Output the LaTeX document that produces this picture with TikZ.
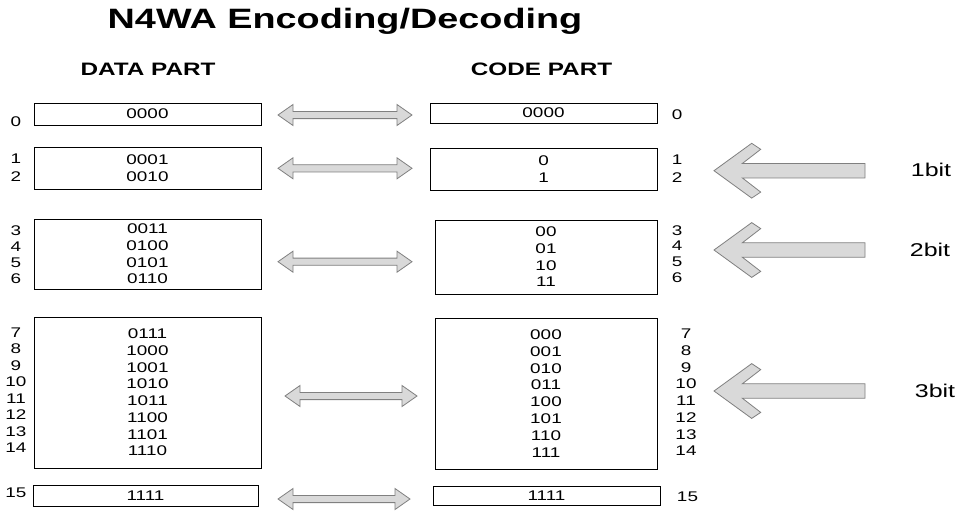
\documentclass[tikz,border=0pt]{standalone}
\usepackage{fontspec}
\setmainfont{Liberation Sans}[FakeStretch=1.35]
\definecolor{blockgray}{HTML}{D9D9D9}
\definecolor{edgegray}{HTML}{808080}
\begin{document}
\begin{tikzpicture}[x=1pt,y=-1pt,
  box/.style={draw=black, line width=1pt, fill=white, inner sep=0pt,
    align=center, font=\fontsize{14}{16.7}\selectfont},
  numstack/.style={inner sep=0pt, align=center, font=\fontsize{14}{#1}\selectfont},
  header/.style={anchor=base, font=\bfseries\fontsize{18}{20}\selectfont},
  bitlabel/.style={inner sep=0pt, font=\fontsize{18.5}{20}\selectfont},
  blockshape/.style={fill=blockgray, draw=edgegray, line width=0.8pt, line join=miter},
  pics/dblarrow/.style={code={
    \draw[blockshape] (0,0) -- (15,-10.5) -- (15,-3.6) -- (#1-15,-3.6) -- (#1-15,-10.5)
      -- (#1,0) -- (#1-15,10.5) -- (#1-15,3.6) -- (15,3.6) -- (15,10.5) -- cycle;
  }},
  pics/bigarrow/.style={code={
    \draw[blockshape] (0,0) -- (37.7,-27.4) -- (46.7,-21.4) -- (28.3,-7.2) -- (151,-7.2)
      -- (151,7.2) -- (28.3,7.2) -- (46.7,21.4) -- (37.7,27.4) -- cycle;
  }}
]
\fill[white] (0,0) rectangle (963,512);
\useasboundingbox (0,0) rectangle (963,512);

% title and column headers
\node[anchor=base, font=\bfseries\fontsize{28}{30}\selectfont] (title) at (345,28.3) {N4WA Encoding/Decoding};
\node[header] (datahead) at (148,75) {DATA PART};
\node[header] (codehead) at (541.5,75) {CODE PART};

% data part
\node[box, minimum width=227pt, minimum height=22pt] (d0) at (147.5,114) {0000};
\node[box, minimum width=227pt, minimum height=42pt] (d1) at (147.5,168) {0001\\0010};
\node[box, minimum width=227pt, minimum height=70pt] (d3) at (147.5,254) {0011\\0100\\0101\\0110};
\node[box, minimum width=227pt, minimum height=151pt] (d7) at (147.5,392.5)
  {0111\\1000\\1001\\1010\\1011\\1100\\1101\\1110};
\node[box, minimum width=225pt, minimum height=21pt] (d15) at (145.5,495.5) {1111};

% code part
\node[box, minimum width=227pt, minimum height=20pt] (c0) at (543.5,113) {0000};
\node[box, minimum width=227pt, minimum height=42pt] (c1) at (543.5,169) {0\\1};
\node[box, minimum width=222pt, minimum height=74pt] (c3) at (546,257) {00\\01\\10\\11};
\node[box, minimum width=222pt, minimum height=151pt, font=\fontsize{14}{16.9}\selectfont] (c7) at (546,393.5)
  {000\\001\\010\\011\\100\\101\\110\\111};
\node[box, minimum width=227pt, minimum height=19pt] (c15) at (546.5,495.5) {1111};

% index numbers, left
\node[numstack=17] (l0) at (16,121.7) {0};
\node[numstack=17.7] (l1) at (16,168) {1\\2};
\node[numstack=15.9] (l3) at (16,254.7) {3\\4\\5\\6};
\node[numstack=16.5] (l7) at (16,390.3) {7\\8\\9\\10\\11\\12\\13\\14};
\node[numstack=17] (l15) at (16,492.5) {15};

% index numbers, right
\node[numstack=17] (r0) at (677,115) {0};
\node[numstack=18] (r1) at (677,169) {1\\2};
\node[numstack=15.8] (r3) at (677,254) {3\\4\\5\\6};
\node[numstack=16.7] (r7) at (686,392.5) {7\\8\\9\\10\\11\\12\\13\\14};
\node[numstack=17] (r15) at (687.5,497) {15};

% two-way arrows between the parts
\pic (a0) at (278,115) {dblarrow=134};
\pic (a1) at (278,168.3) {dblarrow=134};
\pic (a3) at (278,261.7) {dblarrow=134};
\pic (a7) at (285,396) {dblarrow=132};
\pic (a15) at (278,499) {dblarrow=132};

% code length arrows
\pic (b1) at (714,170.7) {bigarrow};
\pic (b3) at (714,250) {bigarrow};
\pic (b7) at (714,391) {bigarrow};
\node[bitlabel] (k1) at (931,170) {1bit};
\node[bitlabel] (k2) at (930,250) {2bit};
\node[bitlabel] (k3) at (935,390.5) {3bit};
\end{tikzpicture}
\end{document}
